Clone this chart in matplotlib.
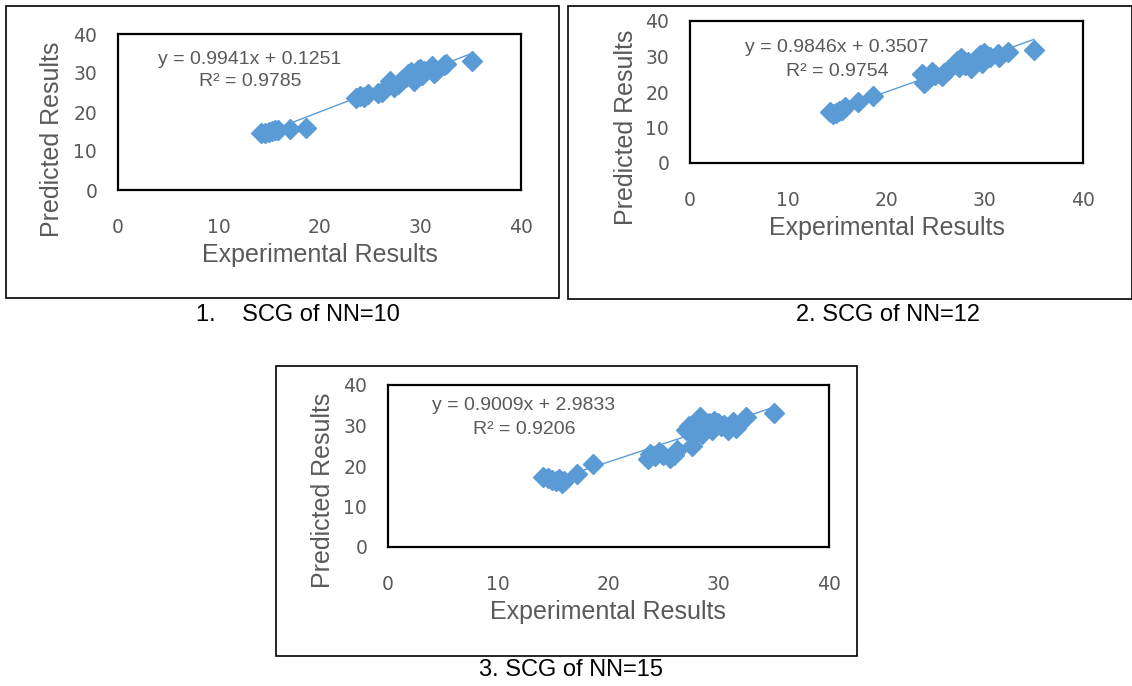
import matplotlib
matplotlib.use("Agg")
import matplotlib.pyplot as plt
from matplotlib.patches import Rectangle

# experimental vs predicted values
exp1 = [14.2, 14.6, 15.0, 15.3, 15.6, 15.9, 17.1, 18.7, 23.6, 24.0, 24.4, 24.8,
        25.8, 26.2, 27.0, 27.4, 27.8, 28.0, 28.3, 28.6, 28.8, 29.1, 29.4, 29.6,
        29.8, 30.0, 30.2, 30.4, 31.2, 31.4, 31.6, 32.4, 32.6, 35.1]
pred1 = [14.5, 14.6, 15.0, 15.2, 15.3, 15.5, 15.6, 15.9, 23.5, 24.0, 23.8, 24.5,
         24.8, 25.2, 28.0, 26.5, 27.2, 27.8, 28.5, 29.0, 29.8, 30.2, 28.0, 29.5,
         30.8, 31.0, 29.4, 30.5, 31.8, 30.0, 30.6, 32.0, 32.4, 33.0]

exp2 = [14.2, 14.6, 14.9, 15.2, 15.5, 15.8, 17.1, 18.6, 23.6, 23.8, 24.1, 24.6,
        24.9, 25.6, 25.9, 26.3, 27.2, 27.4, 27.6, 28.0, 28.3, 28.6, 28.9, 29.2,
        29.5, 29.7, 29.9, 30.2, 30.5, 31.3, 31.5, 32.4, 35.0]
pred2 = [14.3, 13.8, 14.2, 14.6, 15.0, 15.8, 17.2, 18.9, 25.0, 22.5, 23.5, 25.5,
         24.8, 24.6, 25.4, 26.3, 28.8, 27.0, 29.6, 27.5, 28.5, 26.8, 28.0, 29.5,
         30.5, 28.2, 31.0, 30.2, 29.8, 30.8, 29.8, 31.4, 31.8]

exp3 = [14.1, 14.5, 14.9, 15.2, 15.5, 15.8, 16.0, 17.1, 18.6, 23.6, 23.8, 24.2,
        24.6, 24.9, 25.6, 25.9, 26.2, 27.0, 27.3, 27.6, 27.8, 28.3, 28.5, 28.8,
        29.1, 29.4, 29.6, 29.9, 30.2, 30.5, 30.8, 31.3, 31.6, 32.5, 35.0]
pred3 = [17.2, 17.0, 16.6, 16.2, 16.8, 15.8, 16.4, 18.0, 20.6, 21.8, 23.0, 22.4,
         23.5, 22.6, 22.0, 22.8, 24.0, 28.8, 29.8, 25.0, 27.8, 32.0, 28.0, 29.5,
         30.6, 29.0, 31.0, 30.5, 29.8, 30.2, 29.0, 30.8, 29.5, 32.2, 33.0]

# trendline coefficients shown on the charts
slopes = [0.9941, 0.9846, 0.9009]
intercepts = [0.1251, 0.3507, 2.9833]
r2s = ["0.9785", "0.9754", "0.9206"]
captions = ["1.    SCG of NN=10", "2. SCG of NN=12", "3. SCG of NN=15"]
ticks = [0, 10, 20, 30, 40]

W, H = 1132, 686
blue = "#5B9BD5"
gray = "#595959"

fig = plt.figure(figsize=(W / 100, H / 100), dpi=100)


def fx(x):
    return x / W


def fy(y):
    return 1 - y / H


def panel(xs, ys, k, frame, box, cap, xlab, ylab, eq):
    l, t, r, b = frame
    ax = fig.add_axes([fx(l), fy(b), fx(r) - fx(l), fy(t) - fy(b)])
    ax.set_xlim(0, 40)
    ax.set_ylim(0, 40)
    ax.set_xticks(ticks)
    ax.set_yticks(ticks)
    ax.tick_params(axis="x", length=0, pad=20, labelsize=13.5, labelcolor=gray)
    ax.tick_params(axis="y", length=0, pad=15, labelsize=13.5, labelcolor=gray)
    for s in ax.spines.values():
        s.set_color("black")
        s.set_linewidth(1.6)
    # trendline over the data range
    x0, x1 = min(xs), max(xs)
    ax.plot([x0, x1], [slopes[k] * x0 + intercepts[k], slopes[k] * x1 + intercepts[k]],
            color=blue, lw=1.0, zorder=2)
    ax.plot(xs, ys, "D", color=blue, ms=10, zorder=3, clip_on=False)
    # outer chart box
    bl, bt, br, bb = box
    fig.patches.append(Rectangle((fx(bl), fy(bb)), fx(br) - fx(bl), fy(bt) - fy(bb),
                                 transform=fig.transFigure, fill=False,
                                 edgecolor="black", lw=1.2))
    fig.text(fx(xlab[0]), fy(xlab[1]), "Experimental Results", ha="center", va="center",
             fontsize=18, color=gray, family="Liberation Sans")
    fig.text(fx(ylab[0]), fy(ylab[1]), "Predicted Results", ha="center", va="center",
             rotation=90, fontsize=18, color=gray, family="Liberation Sans")
    fig.text(fx(eq[0]), fy(eq[1]), "y = %.4fx + %.4f" % (slopes[k], intercepts[k]),
             ha="center", va="center", fontsize=14, color=gray, family="Liberation Sans")
    fig.text(fx(eq[0]), fy(eq[1] + 23), "R² = " + r2s[k],
             ha="center", va="center", fontsize=14, color=gray, family="Liberation Sans")
    fig.text(fx(cap[0]), fy(cap[1]), captions[k], ha="center", va="center",
             fontsize=17, color="black", family="Liberation Sans")


panel(exp1, pred1, 0, (118, 34, 521, 190), (6, 6, 559, 298), (298, 315),
      (320, 255), (52, 139), (250, 59))
panel(exp2, pred2, 1, (690, 21, 1083, 163), (568, 6, 1132, 299), (888, 315),
      (887, 228), (626, 127), (837, 48))
panel(exp3, pred3, 2, (388, 385, 829, 547), (276, 366, 857, 656), (571, 670),
      (608, 612), (323, 490), (524, 406))

fig.savefig("out.png", dpi=100)
